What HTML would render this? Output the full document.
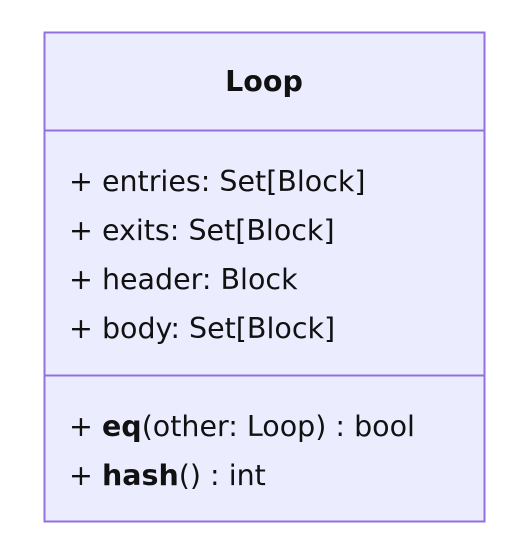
<!DOCTYPE html>
<html><head><meta charset="utf-8"><style>
html,body{margin:0;padding:0;background:#fff;}
svg{display:block;}
text{font-family:"DejaVu Sans","Liberation Sans",sans-serif;font-size:28.5px;fill:#111;}
</style></head><body>
<svg width="519" height="559" viewBox="0 0 519 559" xmlns="http://www.w3.org/2000/svg">
<rect x="44.5" y="32.5" width="440" height="489" fill="#ECECFF" stroke="#9370DB" stroke-width="2"/>
<line x1="44" y1="130.5" x2="485" y2="130.5" stroke="#9370DB" stroke-width="2"/>
<line x1="44" y1="375.5" x2="485" y2="375.5" stroke="#9370DB" stroke-width="2"/>
<text x="264" y="91" text-anchor="middle" font-weight="bold">Loop</text>
<text x="69" y="191">+ entries: Set[Block]</text>
<text x="69" y="240">+ exits: Set[Block]</text>
<text x="69" y="289">+ header: Block</text>
<text x="69" y="338">+ body: Set[Block]</text>
<text x="69" y="436">+ <tspan font-weight="bold">eq</tspan>(other: Loop) : bool</text>
<text x="69" y="485">+ <tspan font-weight="bold">hash</tspan>() : int</text>
</svg>
</body></html>
